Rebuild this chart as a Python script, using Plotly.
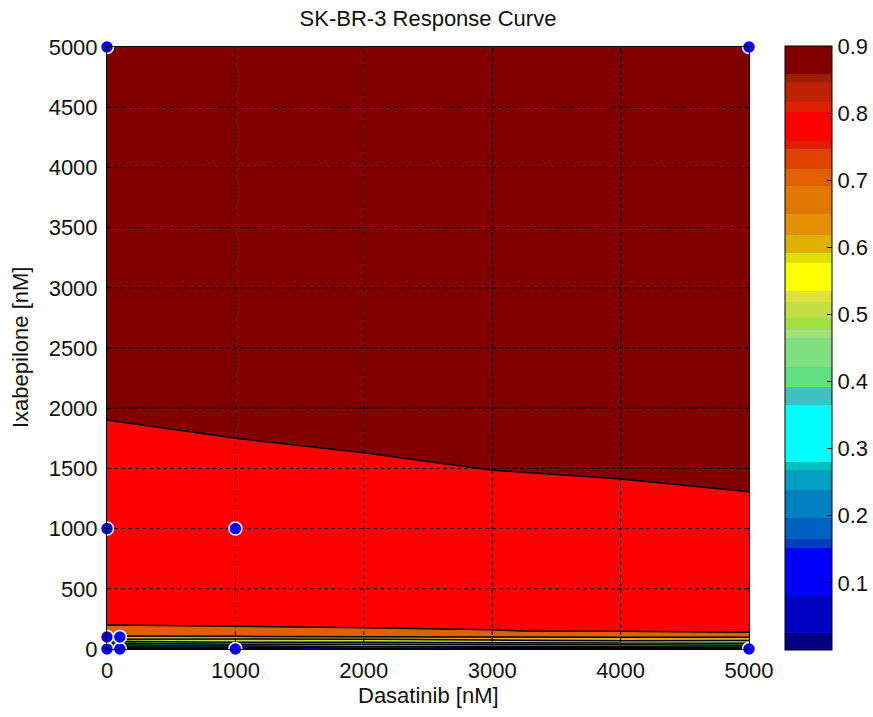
import plotly.graph_objects as go

# ---------------- data ----------------
dose_x = [0, 1000, 2000, 3000, 4000, 5000]          # Dasatinib [nM]
dose_y = [0, 20, 40, 60, 80, 100, 150, 250, 1000, 3000, 5000]  # Ixabepilone [nM]
response = [
    [0.000, 0.050, 0.150, 0.080, 0.080, 0.080],   # y = 0
    [0.220, 0.250, 0.300, 0.300, 0.310, 0.330],   # y = 20
    [0.320, 0.400, 0.400, 0.420, 0.430, 0.460],   # y = 40
    [0.480, 0.520, 0.530, 0.550, 0.570, 0.560],   # y = 60
    [0.598, 0.585, 0.598, 0.620, 0.640, 0.640],   # y = 80
    [0.685, 0.690, 0.696, 0.702, 0.705, 0.705],   # y = 100
    [0.780, 0.787, 0.793, 0.798, 0.806, 0.825],   # y = 150
    [0.820, 0.820, 0.820, 0.820, 0.830, 0.840],   # y = 250
    [0.859, 0.870, 0.877, 0.884, 0.887, 0.891],   # y = 1000
    [0.950, 0.950, 0.950, 0.950, 0.950, 0.950],   # y = 3000
    [0.970, 0.970, 0.970, 0.970, 0.970, 0.970],   # y = 5000
]

# measured combination points
pts_x = [0, 0, 100, 100, 0, 1000, 1000, 0, 5000, 5000]
pts_y = [0, 100, 0, 100, 1000, 1000, 0, 5000, 5000, 0]

x_ticks = [0, 1000, 2000, 3000, 4000, 5000]
y_ticks = [0, 500, 1000, 1500, 2000, 2500, 3000, 3500, 4000, 4500, 5000]
cb_ticks = [0.1, 0.2, 0.3, 0.4, 0.5, 0.6, 0.7, 0.8, 0.9]

# colour map shown in the colour bar (band edges and colours, bottom to top)
cb_bounds = [0.0, 0.025, 0.081, 0.152, 0.166, 0.196, 0.238, 0.268, 0.280, 0.365,
             0.392, 0.422, 0.465, 0.477, 0.495, 0.519, 0.535, 0.577, 0.592, 0.619,
             0.649, 0.691, 0.716, 0.746, 0.758, 0.801, 0.816, 0.846, 0.859, 0.9]
cb_colors = ["rgb(0,0,128)", "rgb(0,0,192)", "rgb(0,0,255)", "rgb(0,64,192)",
             "rgb(0,96,192)", "rgb(0,128,192)", "rgb(0,160,192)", "rgb(0,192,192)",
             "rgb(0,255,255)", "rgb(64,192,192)", "rgb(96,224,128)", "rgb(128,224,128)",
             "rgb(160,224,128)", "rgb(160,224,64)", "rgb(192,224,64)", "rgb(224,224,64)",
             "rgb(255,255,0)", "rgb(224,224,0)", "rgb(224,176,0)", "rgb(224,144,0)",
             "rgb(224,120,0)", "rgb(224,96,0)", "rgb(224,64,0)", "rgb(222,32,0)",
             "rgb(255,0,0)", "rgb(222,32,0)", "rgb(190,32,0)", "rgb(155,30,0)",
             "rgb(128,0,0)"]

# fill colours of the contour bands: below 0.1, 0.1-0.2, ..., 0.8-0.9, above 0.9
band_colors = ["#000000", "#0000ff", "#0080c0", "#00ffff", "#60e080",
               "#c0e040", "#e0b000", "#e06000", "#ff0000", "#800000"]

# ---------------- build scales ----------------
cmin, cmax = cb_bounds[0], cb_bounds[-1]
cb_scale = []
for i, c in enumerate(cb_colors):
    lo = (cb_bounds[i] - cmin) / (cmax - cmin)
    hi = (cb_bounds[i + 1] - cmin) / (cmax - cmin)
    cb_scale.append([lo, c])
    cb_scale.append([hi, c])

n = len(band_colors)
contour_scale = []
for i, c in enumerate(band_colors):
    lo = max(0.0, (i - 0.5) / (n - 1))
    hi = min(1.0, (i + 0.5) / (n - 1))
    contour_scale.append([lo, c])
    contour_scale.append([hi, c])

FONT = "Liberation Sans, Arial, sans-serif"
FS = 22
TXT = "#111111"
W, H = 873, 717
L, R, T, B = 107, 124, 47, 68
PW = W - L - R
PH = H - T - B

fig = go.Figure()

fig.add_trace(go.Contour(
    x=dose_x, y=dose_y, z=response,
    contours=dict(start=0.1, end=0.9, size=0.1, coloring="fill"),
    colorscale=contour_scale,
    line=dict(color="black", width=1.5, smoothing=0),
    showscale=False,
    hoverinfo="skip",
))

# dashed grid drawn above the filled contours
gx, gy = [], []
for t in x_ticks[1:-1]:
    gx += [t, t, None]
    gy += [y_ticks[0], y_ticks[-1], None]
for t in y_ticks[1:-1]:
    gx += [x_ticks[0], x_ticks[-1], None]
    gy += [t, t, None]
fig.add_trace(go.Scatter(
    x=gx, y=gy, mode="lines",
    line=dict(color="black", width=1, dash="4px,3px"),
    hoverinfo="skip", showlegend=False,
))

fig.add_trace(go.Scatter(
    x=pts_x, y=pts_y, mode="markers",
    marker=dict(size=13, color="#0000ff", line=dict(color="white", width=1.5)),
    cliponaxis=False, showlegend=False,
))

# colour bar
fig.add_trace(go.Scatter(
    x=[pts_x[0]], y=[pts_y[0]], mode="markers",
    marker=dict(size=1, opacity=0, color=[0.45], cmin=cmin, cmax=cmax,
                colorscale=cb_scale, showscale=True,
                colorbar=dict(
                    x=1 + (785 - (L + PW)) / PW, xanchor="left", xpad=0, ypad=0,
                    y=0.5, yanchor="middle", len=PH + 2, lenmode="pixels",
                    thickness=47, thicknessmode="pixels",
                    outlinecolor="black", outlinewidth=1,
                    tickvals=cb_ticks, ticks="inside", ticklen=5,
                    tickcolor="black",
                    tickfont=dict(family=FONT, size=FS, color=TXT),
                )),
    hoverinfo="skip", showlegend=False,
))

axis_common = dict(
    showgrid=False, zeroline=False, showline=True, linecolor="black",
    linewidth=1, mirror="ticks", ticks="inside", ticklen=5, tickcolor="black",
    layer="above traces", tickfont=dict(family=FONT, size=FS, color=TXT),
)

fig.update_layout(
    width=W, height=H,
    margin=dict(l=L, r=R, t=T, b=B, autoexpand=False),
    paper_bgcolor="white", plot_bgcolor="white",
    showlegend=False,
    title=dict(text="SK-BR-3 Response Curve", x=0.5, xref="paper",
               y=1 - 18 / H, yref="container", yanchor="middle",
               font=dict(family=FONT, size=FS, color=TXT)),
    xaxis=dict(range=[x_ticks[0], x_ticks[-1]], tickvals=x_ticks,
               ticklabelstandoff=2, **axis_common),
    yaxis=dict(range=[y_ticks[0], y_ticks[-1]], tickvals=y_ticks,
               ticklabelstandoff=4, **axis_common),
    annotations=[
        dict(text="Dasatinib [nM]", xref="paper", yref="paper", x=0.5,
             y=(649 - 695) / 602, xanchor="center", yanchor="middle",
             showarrow=False, font=dict(family=FONT, size=FS, color=TXT)),
        dict(text="Ixabepilone [nM]", xref="paper", yref="paper",
             x=(20 - 107) / 642, y=0.5, xanchor="center", yanchor="middle",
             textangle=-90, showarrow=False,
             font=dict(family=FONT, size=FS, color=TXT)),
    ],
)

fig.write_html("out.html")
